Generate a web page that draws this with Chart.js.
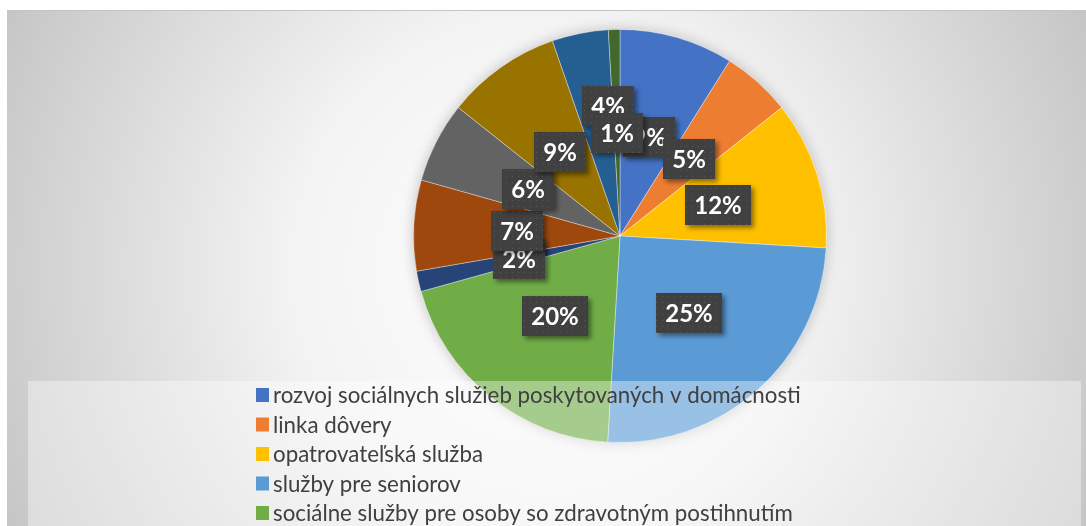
<!DOCTYPE html>
<html>
<head>
<meta charset="utf-8">
<title>Pie chart</title>
<script src="https://cdn.jsdelivr.net/npm/chart.js@4.4.0/dist/chart.umd.min.js"></script>
<style>
  html, body { margin: 0; padding: 0; background: #ffffff; overflow: hidden; }
  #wrap { width: 1086px; height: 526px; }
</style>
</head>
<body>
<div id="wrap"><canvas id="pieChart" width="1086" height="526"></canvas></div>
<script>
// Categories (only the first five are readable in the source, the rest are cut off)
const categories = [
  'rozvoj sociálnych služieb poskytovaných v domácnosti',
  'linka dôvery',
  'opatrovateľská služba',
  'služby pre seniorov',
  'sociálne služby pre osoby so zdravotným postihnutím',
  'kategória 6',
  'kategória 7',
  'kategória 8',
  'kategória 9',
  'kategória 10',
  'kategória 11'
];

// Share of each slice (percent)
const values = [8.9, 5.4, 11.6, 25.0, 19.7, 1.6, 7.1, 6.3, 9.0, 4.4, 0.9];

const sliceColors = [
  '#4472C4', '#ED7D31', '#FFC000', '#5B9BD5', '#70AD47',
  '#264478', '#9E480E', '#636363', '#997300', '#255E91', '#43682B'
];

// Chart background with radial gradient
const backgroundPlugin = {
  id: 'backgroundPlugin',
  beforeDraw(chart) {
    const ctx = chart.ctx;
    ctx.save();
    ctx.fillStyle = '#ffffff';
    ctx.fillRect(0, 0, chart.width, chart.height);
    const grad = ctx.createRadialGradient(546, 268, 0, 546, 268, 640);
    grad.addColorStop(0, '#ffffff');
    grad.addColorStop(0.4, '#f3f3f3');
    grad.addColorStop(1, '#c0c0c0');
    ctx.fillStyle = grad;
    ctx.fillRect(7, 10, chart.width - 7, chart.height - 10);
    ctx.fillStyle = '#c4c4c4';
    ctx.fillRect(7, 10, chart.width - 7, 1);
    ctx.restore();
  }
};

// Soft shadow behind the whole pie
const pieShadow = {
  id: 'pieShadow',
  beforeDatasetsDraw(chart) {
    const arc = chart.getDatasetMeta(0).data[0];
    if (!arc) return;
    const p = arc.getProps(['x', 'y', 'outerRadius'], true);
    const ctx = chart.ctx;
    ctx.save();
    ctx.shadowColor = 'rgba(0, 0, 0, 0.22)';
    ctx.shadowBlur = 14;
    ctx.fillStyle = '#ffffff';
    ctx.beginPath();
    ctx.arc(p.x, p.y, p.outerRadius, 0, Math.PI * 2);
    ctx.fill();
    ctx.restore();
  }
};

// Dark percentage boxes placed halfway along each slice
const labelBoxes = {
  id: 'labelBoxes',
  afterDatasetsDraw(chart, args, opts) {
    const ctx = chart.ctx;
    const meta = chart.getDatasetMeta(0);
    const total = values.reduce((a, b) => a + b, 0);

    const tile = document.createElement('canvas');
    tile.width = 6;
    tile.height = 6;
    const t = tile.getContext('2d');
    t.fillStyle = '#404040';
    t.fillRect(0, 0, 6, 6);
    t.fillStyle = '#585858';
    t.fillRect(2, 2, 1, 1);
    const pattern = ctx.createPattern(tile, 'repeat');

    ctx.save();
    ctx.font = 'bold 24px Lato';
    ctx.textAlign = 'center';
    ctx.textBaseline = 'middle';
    meta.data.forEach((arc, i) => {
      const p = arc.getProps(['x', 'y', 'startAngle', 'endAngle', 'outerRadius'], true);
      const mid = (p.startAngle + p.endAngle) / 2;
      const nudge = opts.nudge[i] || [0, 0];
      const cx = p.x + Math.cos(mid) * p.outerRadius * 0.5 + nudge[0];
      const cy = p.y + Math.sin(mid) * p.outerRadius * 0.5 + nudge[1];
      const text = Math.round(values[i] / total * 100) + '%';
      const w = Math.round(ctx.measureText(text).width + 18);
      const h = 40;
      const x = Math.round(cx - w / 2), y = Math.round(cy - h / 2);

      ctx.shadowColor = 'rgba(0, 0, 0, 0.45)';
      ctx.shadowBlur = 5;
      ctx.shadowOffsetX = 3;
      ctx.shadowOffsetY = 3;
      ctx.fillStyle = pattern;
      ctx.fillRect(x, y, w, h);
      ctx.shadowColor = 'transparent';
      ctx.fillStyle = '#ffffff';
      ctx.fillText(text, x + w / 2, y + h / 2 + 1);
    });
    ctx.restore();
  }
};

// Legend overlaid on the lower part of the chart
const overlayLegend = {
  id: 'overlayLegend',
  afterDraw(chart) {
    const ctx = chart.ctx;
    ctx.save();
    ctx.fillStyle = 'rgba(255, 255, 255, 0.38)';
    ctx.fillRect(28, 381, 1053, chart.height - 381);
    ctx.font = '22.3px Lato';
    ctx.textBaseline = 'alphabetic';
    categories.forEach((name, i) => {
      const y = 403 + i * 29.5;
      ctx.fillStyle = sliceColors[i];
      ctx.fillRect(256, y - 15, 13, 14);
      ctx.fillStyle = '#404040';
      ctx.fillText(name, 273, y);
    });
    ctx.restore();
  }
};

const ctx = document.getElementById('pieChart');

new Chart(ctx, {
  type: 'pie',
  data: {
    labels: categories,
    datasets: [{
      data: values,
      backgroundColor: sliceColors,
      borderColor: 'rgba(255, 255, 255, 0.35)',
      borderWidth: 1
    }]
  },
  options: {
    responsive: false,
    animation: false,
    layout: {
      padding: { left: 413, right: 259, top: 29, bottom: 83 }
    },
    plugins: {
      legend: { display: false },
      tooltip: { enabled: false },
      labelBoxes: {
        // the 4% label sits above its slice in the source
        nudge: { 9: [8, -29] }
      }
    }
  },
  plugins: [backgroundPlugin, pieShadow, labelBoxes, overlayLegend]
});
</script>
</body>
</html>
